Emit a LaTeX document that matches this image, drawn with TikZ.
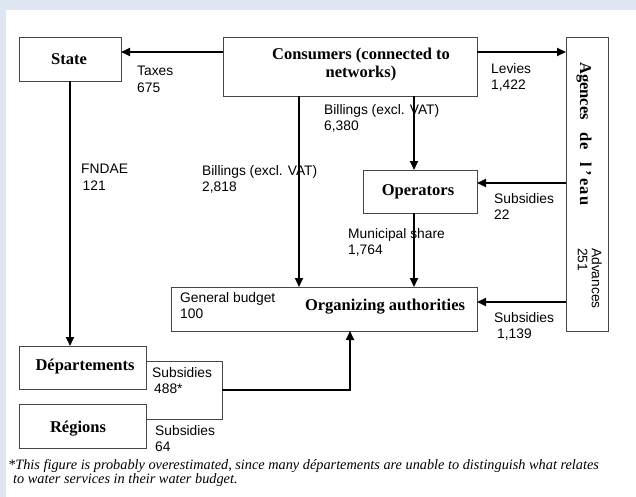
\documentclass[tikz,border=0pt]{standalone}
\usepackage{fontspec}
\setmainfont{Liberation Serif}
\setsansfont{Liberation Sans}
\usetikzlibrary{arrows.meta}
\definecolor{bgblue}{RGB}{222,230,244}
\definecolor{boxline}{RGB}{70,70,70}
\begin{document}
\begin{tikzpicture}[x=1pt,y=-1pt,
  box/.style={draw=boxline, line width=0.8pt, inner sep=0pt, outer sep=0pt},
  arr/.style={line width=1.8pt, -{Triangle[length=9pt,width=8pt]}},
  thin/.style={draw=boxline, line width=0.8pt},
  lab/.style={font=\fontsize{13.8}{16.5}\selectfont\sffamily, anchor=north west, inner sep=0pt, align=left},
  ttl/.style={font=\fontsize{16.5}{18}\selectfont\bfseries, inner sep=0pt, anchor=base}]
\useasboundingbox (0,0) rectangle (636,497);
\fill[bgblue] (0,0) rectangle (636,497);
\fill[white] (6,10) rectangle (636,497);

% boxes
\node[box, minimum width=102pt, minimum height=44pt] (state) at (70,59) {};
\node[box, minimum width=254pt, minimum height=59pt] (cons) at (350,66.5) {};
\node[box, minimum width=42pt, minimum height=294pt] (agences) at (587,184) {};
\node[box, minimum width=114pt, minimum height=43pt] (oper) at (420,191.5) {};
\node[box, minimum width=306pt, minimum height=44pt] (org) at (324,309) {};
\node[box, minimum width=127pt, minimum height=43pt] (dep) at (82.5,367.5) {};
\node[box, minimum width=127pt, minimum height=44pt] (reg) at (82.5,426) {};

% box titles
\node[ttl] (tstate) at (69,65) {State};
\node[ttl, anchor=north, align=center] (tcons) at (361,47.5) {Consumers (connected to\\networks)};
\node[ttl] (toper) at (418,195) {Operators};
\node[ttl] (torg) at (385,310) {Organizing authorities};
\node[ttl] (tdep) at (85,370) {Départements};
\node[ttl] (treg) at (78,432) {Régions};
\node[font=\fontsize{16.5}{18}\selectfont\bfseries, inner sep=0pt, rotate=-90, anchor=base west] (tag) at (580,62) {Agences\hspace{13pt}de\hspace{13pt}l\kern3pt’\kern3pt e\kern1pt a\kern1pt u};

% bracket joining Départements and Régions
\coordinate (brk) at (222,390);
\draw[thin] (dep.east |- 0,361) -- (222,361) -- (222,419) -- (reg.east |- 0,419);

% helper coordinates
\coordinate (x299) at (299,0);
\coordinate (x414) at (414,0);
\coordinate (x350) at (350,0);
\coordinate (y183) at (0,183);
\coordinate (y302) at (0,302);

% connectors
\draw[arr] ([yshift=-15pt]cons.north west) -- ([yshift=-15pt]state.north east);
\draw[arr] ([yshift=-15pt]cons.north east) -- ([yshift=-15pt]agences.north west);
\draw[arr] (cons.south -| x299) -- (org.north -| x299);
\draw[arr] (cons.south -| x414) -- (oper.north -| x414);
\draw[arr] (oper.south -| x414) -- (org.north -| x414);
\draw[arr] (agences.west |- y183) -- (oper.east |- y183);
\draw[arr] (agences.west |- y302) -- (org.east |- y302);
\draw[arr] (state.south) -- (dep.north -| state.south);
\draw[arr] (brk) -| (org.south -| x350);

% labels
\node[lab] (ltax) at (137,66) {Taxes\\675};
\node[lab] (llev) at (491,63) {Levies\\1,422};
\node[lab] (lbil1) at (324,104) {Billings (excl. VAT)\\6,380};
\node[lab] (lfnd) at (81,164) {FNDAE\\\hspace{1.5pt}121};
\node[lab] (lbil2) at (202,165) {Billings (excl. VAT)\\2,818};
\node[lab] (lsub22) at (494,193) {Subsidies\\22};
\node[lab] (lmun) at (348,228) {Municipal share\\1,764};
\node[lab] (lgen) at (180,292) {General budget\\100};
\node[lab] (lsub1139) at (494,312) {Subsidies\\\hspace{3pt}1,139};
\node[lab] (lsub488) at (152,367) {Subsidies\\\hspace{2pt}488*};
\node[lab] (lsub64) at (155,425) {Subsidies\\64};
\node[lab, rotate=-90, font=\fontsize{13.8}{14}\selectfont\sffamily] (ladv) at (602,248) {Advances\\251};

% footnote
\node[font=\fontsize{14.3}{12.5}\selectfont\itshape, anchor=north west, inner sep=0pt, align=left] (fn) at (8,459)
  {*This figure is probably overestimated, since many départements are unable to distinguish what relates\\
   \hspace{5pt}to water services in their water budget.};
\end{tikzpicture}
\end{document}
